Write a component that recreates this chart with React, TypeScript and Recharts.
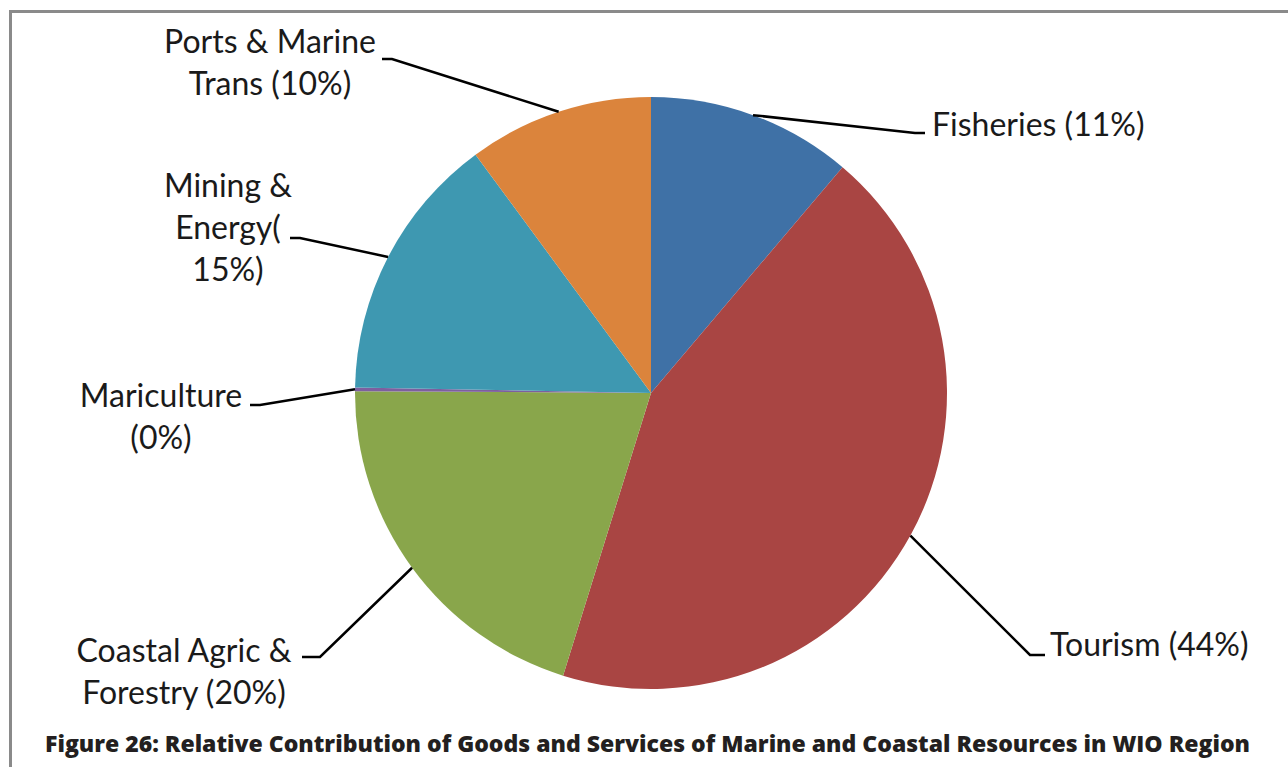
import { Cell, Pie, PieChart } from "recharts";

const categories = [
  "Fisheries",
  "Tourism",
  "Coastal Agric & Forestry",
  "Mariculture",
  "Mining & Energy",
  "Ports & Marine Trans",
];
const shares = [11.2, 43.6, 20.3, 0.2, 14.6, 10.1];
const labelLines = [
  ["Fisheries (11%)"],
  ["Tourism (44%)"],
  ["Coastal Agric &", "Forestry (20%)"],
  ["Mariculture", "(0%)"],
  ["Mining &", "Energy(", "15%)"],
  ["Ports & Marine", "Trans (10%)"],
];
const colors = ["#3f71a6", "#a94543", "#89a64b", "#7d5f9f", "#3e98b1", "#db843c"];

// leader elbow / end (offsets from pie centre) and text block placement
const labelLayout = [
  { elbow: [264, -260], end: [274, -260], tx: 281, ty: -268, anchor: "start" },
  { elbow: [379, 262], end: [394, 262], tx: 399, ty: 252, anchor: "start" },
  { elbow: [-331, 264], end: [-349, 264], tx: -467, ty: 258, anchor: "middle" },
  { elbow: [-391, 12], end: [-401, 12], tx: -490, ty: 3, anchor: "middle" },
  { elbow: [-351, -155], end: [-361, -155], tx: -423, ty: -207, anchor: "middle" },
  { elbow: [-259, -334], end: [-269, -334], tx: -381, ty: -351, anchor: "middle" },
];

const data = categories.map((name, i) => ({ name, value: shares[i] }));

const RADIAN = Math.PI / 180;

function renderLabel(props: any) {
  const { cx, cy, midAngle, outerRadius, index } = props;
  const layout = labelLayout[index];
  const sx = cx + outerRadius * Math.cos(-midAngle * RADIAN);
  const sy = cy + outerRadius * Math.sin(-midAngle * RADIAN);
  const ex = cx + layout.elbow[0];
  const ey = cy + layout.elbow[1];
  const fx = cx + layout.end[0];
  const fy = cy + layout.end[1];
  const lines = labelLines[index];
  return (
    <g key={`label-${index}`}>
      <polyline
        points={`${sx},${sy} ${ex},${ey} ${fx},${fy}`}
        fill="none"
        stroke="#000"
        strokeWidth={2.5}
      />
      <text
        x={cx + layout.tx}
        y={cy + layout.ty}
        textAnchor={layout.anchor}
        fontFamily="Lato, sans-serif"
        fontSize={32}
        fill="#1a1a1a"
      >
        {lines.map((line, i) => (
          <tspan key={i} x={cx + layout.tx} dy={i === 0 ? "0.35em" : 42}>
            {line}
          </tspan>
        ))}
      </text>
    </g>
  );
}

export default function App() {
  return (
    <div
      style={{
        position: "absolute",
        left: 0,
        top: 0,
        width: 1288,
        height: 767,
        background: "#fff",
        overflow: "hidden",
      }}
    >
      <div
        style={{
          position: "absolute",
          left: 9,
          top: 10,
          width: 1290,
          height: 800,
          borderLeft: "3px solid #8a8a8a",
          borderTop: "3px solid #8a8a8a",
        }}
      />
      <div style={{ position: "absolute", left: 0, top: 0 }}>
        <PieChart width={1288} height={767}>
          <Pie
            data={data}
            dataKey="value"
            nameKey="name"
            cx={646}
            cy={388}
            outerRadius={296}
            startAngle={90}
            endAngle={-270}
            stroke="none"
            label={renderLabel}
            labelLine={false}
            isAnimationActive={false}
          >
            {data.map((d, i) => (
              <Cell key={d.name} fill={colors[i]} />
            ))}
          </Pie>
        </PieChart>
      </div>
      <svg
        width={1288}
        height={767}
        style={{ position: "absolute", left: 0, top: 0, pointerEvents: "none" }}
      >
        <text
          x={45}
          y={752}
          textLength={1205}
          lengthAdjust="spacingAndGlyphs"
          fontFamily="'Open Sans', sans-serif"
          fontWeight={800}
          fontSize={23}
          fill="#231f20"
        >
          Figure 26: Relative Contribution of Goods and Services of Marine and Coastal Resources in WIO Region
        </text>
      </svg>
    </div>
  );
}
